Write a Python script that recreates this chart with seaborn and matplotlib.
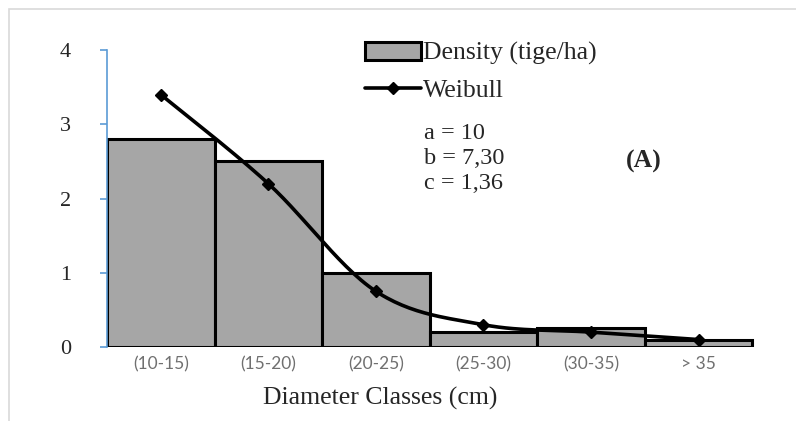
import numpy as np
import pandas as pd
import seaborn as sns
from matplotlib import pyplot as plt
from matplotlib.lines import Line2D
from matplotlib.patches import Patch, Rectangle

classes = ['(10-15)', '(15-20)', '(20-25)', '(25-30)', '(30-35)', '> 35']
density = [2.8, 2.5, 1.0, 0.2, 0.25, 0.1]
weibull = [3.4, 2.2, 0.75, 0.3, 0.2, 0.1]
params = ['a = 10', 'b = 7,30', 'c = 1,36']


def smooth_curve(xs, ys, steps=30):
    # excel style smoothed line: cubic bezier with catmull-rom control points
    pts = np.column_stack([xs, ys]).astype(float)
    pts = np.vstack([pts[0], pts, pts[-1]])
    out = []
    for i in range(1, len(pts) - 2):
        p0, p1, p2, p3 = pts[i - 1], pts[i], pts[i + 1], pts[i + 2]
        c1 = p1 + (p2 - p0) / 6
        c2 = p2 - (p3 - p1) / 6
        t = np.linspace(0, 1, steps)[:, None]
        seg = ((1 - t) ** 3) * p1 + 3 * ((1 - t) ** 2) * t * c1 + 3 * (1 - t) * t ** 2 * c2 + t ** 3 * p2
        out.append(seg)
    out = np.vstack(out)
    return out[:, 0], out[:, 1]


df = pd.DataFrame({'Class': classes, 'Density': density})

sns.set_style('white')
plt.rcParams['font.family'] = ['Liberation Serif', 'DejaVu Serif']

fig = plt.figure(figsize=(7.96, 4.21), dpi=100)
ax = fig.add_axes([0.1344, 0.1758, 0.8176, 0.7054])

sns.barplot(data=df, x='Class', y='Density', color='#a6a6a6', width=1.0,
            edgecolor='black', linewidth=2.2, saturation=1, ax=ax)

xi = np.arange(len(classes))
sx, sy = smooth_curve(xi, weibull)
ax.plot(sx, sy, color='black', lw=2.6, zorder=5)
ax.plot(xi, weibull, linestyle='none', marker='D', color='black', markersize=6.5, zorder=6)

ax.set_xlim(-0.5, 5.55)
ax.set_ylim(0, 4)
ax.set_yticks([0, 1, 2, 3, 4])
ax.set_yticklabels(['0', '1', '2', '3', '4'], fontsize=16)
ax.tick_params(axis='y', left=True, length=5, width=1.2, color='#5b9bd5', pad=21)
ax.tick_params(axis='x', bottom=False, pad=3)
for lbl in ax.get_xticklabels():
    lbl.set_family(['Lato', 'DejaVu Sans'])
    lbl.set_fontsize(12.5)
    lbl.set_color('#707070')

sns.despine(ax=ax, top=True, right=True, bottom=True)
ax.spines['left'].set_color('#5b9bd5')
ax.spines['left'].set_linewidth(1.2)
ax.set_ylabel('')
ax.set_xlabel('Diameter Classes (cm)', fontsize=18.5)
ax.xaxis.set_label_coords(0.42, -0.135)

handles = [Patch(facecolor='#a6a6a6', edgecolor='black', linewidth=2.2),
           Line2D([0], [0], color='black', lw=2.6, marker='D', markersize=6.5)]
leg = fig.legend(handles, ['Density (tige/ha)', 'Weibull'], loc='upper left',
                 bbox_to_anchor=(0.446, 0.925), frameon=False, fontsize=18.5,
                 handlelength=2.15, handletextpad=0.1, labelspacing=0.55,
                 borderaxespad=0)

for k, txt in enumerate(params):
    fig.text(0.533, 0.683 - k * 0.06, txt, fontsize=17.5, va='center', ha='left')
fig.text(0.809, 0.617, '(A)', fontsize=18.5, fontweight='bold', va='center', ha='center')

# light frame around the chart
fig.patches.append(Rectangle((0.011, -0.05), 1.2, 1.029, transform=fig.transFigure,
                             fill=False, edgecolor='#d9d9d9', linewidth=1.2))

fig.savefig('out.png', dpi=100)
